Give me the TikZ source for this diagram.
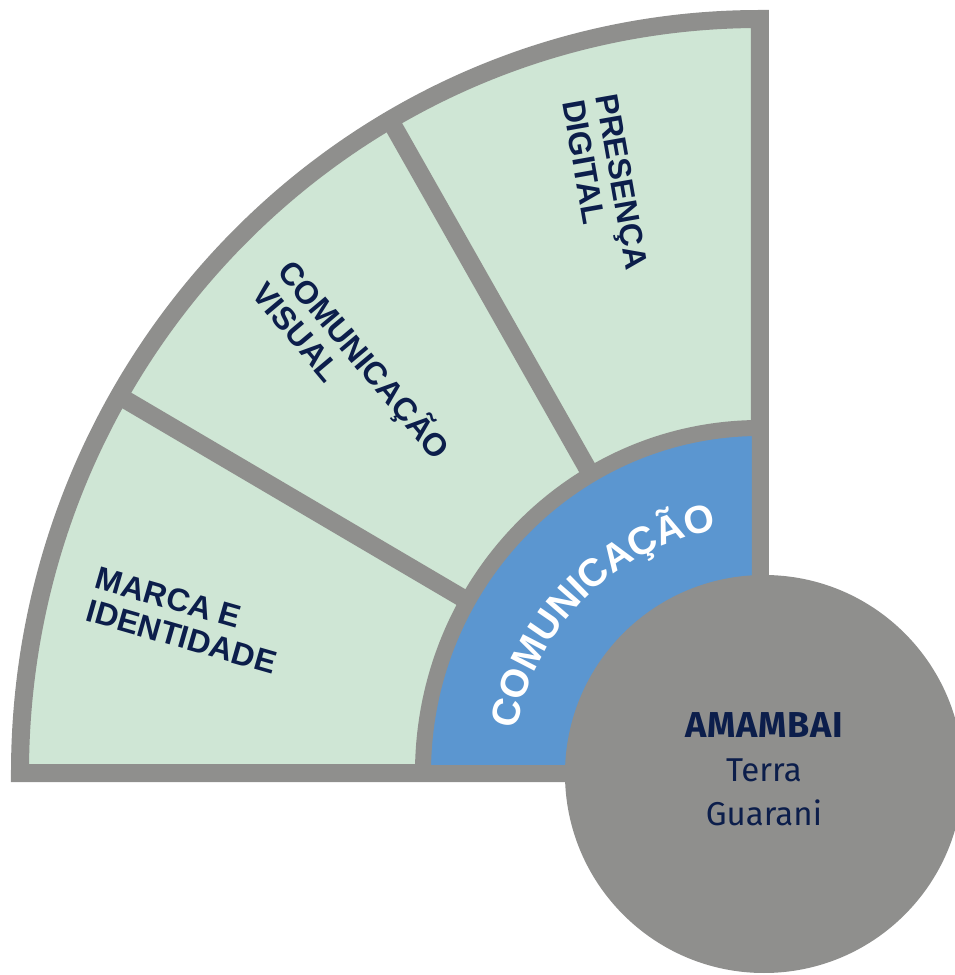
\documentclass[tikz,border=0pt]{standalone}
\usepackage{fontspec}
\usetikzlibrary{decorations.text}
\newfontfamily\labelfont{Liberation Sans}
\newfontfamily\corefont{Fira Sans}
\definecolor{mint}{HTML}{CFE6D5}
\definecolor{frame}{HTML}{8F8F8D}
\definecolor{ringblue}{HTML}{5B96D0}
\definecolor{navy}{HTML}{0C1E4B}
\tikzset{
	sector/.style={fill=mint, draw=frame, line width=18pt, line join=miter},
	spoke/.style={draw=frame, line width=18pt},
	ring/.style={fill=ringblue, draw=frame, line width=16pt, line join=miter},
	coredisc/.style={circle, fill=frame, inner sep=0pt, minimum size=398pt},
	areatext/.style={font=\labelfont\bfseries\fontsize{32}{34}\selectfont, text=navy, align=left, inner sep=0pt, anchor=north west},
	coretext/.style={font=\corefont\fontsize{33}{44}\selectfont, text=navy, align=center, inner sep=0pt}
}

\begin{document}
\begin{tikzpicture}[x=1pt, y=1pt]
			%%%%% START %%%%%
			
			\useasboundingbox (-760, -202) rectangle (194, 773);
			
			\draw[sector] (0, 0) -- (-740, 0) arc[start angle=180, end angle=90, x radius=740pt, y radius=754pt] -- cycle;
			\draw[spoke] (0, 0) -- (150:740pt and 754pt);
			\draw[spoke] (0, 0) -- (120:740pt and 754pt);
			
			\draw[ring] (0, 0) -- (-337, 0) arc[start angle=180, end angle=90, x radius=337pt, y radius=345pt] -- cycle;
			\path[decorate, decoration={text along path, text align=center, text={|\labelfont\bfseries\fontsize{39}{39}\selectfont\color{white}|COMUNICAÇÃO}}] (185:247pt) arc[start angle=185, end angle=85, radius=247pt];
			
			\node[coredisc] (core) at (4, -1) {};
			\node[coretext] (amambai) at ([yshift=5pt]core.center) {{\fontsize{36}{44}\selectfont\bfseries\addfontfeatures{LetterSpace=2}AMAMBAI}\\Terra\\Guarani};
			
			\node[areatext, rotate=-16] (marca) at (-660, 207) {MARCA E\\IDENTIDADE};
			\node[areatext, rotate=-50] (visual) at (-462, 519) {COMUNICAÇÃO\\VISUAL};
			\node[areatext, rotate=-80] (digital) at (-142, 681) {PRESENÇA\\DIGITAL};
			
			%%%%% END %%%%%
\end{tikzpicture}
\end{document}
